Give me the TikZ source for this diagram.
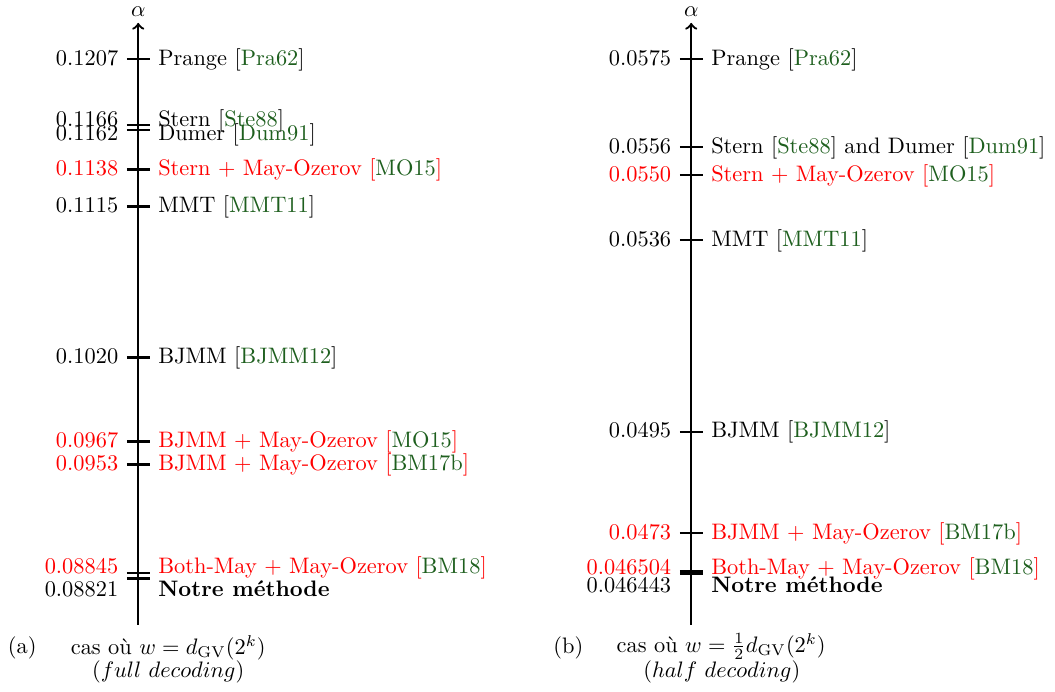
\documentclass[tikz,border=0pt]{standalone}
\usepackage{xcolor}
\usepackage{tikz}
\definecolor{citegreen}{RGB}{30,95,30}
\newcommand{\cit}[1]{[\textcolor{citegreen}{#1}]}

\begin{document}
\begin{tikzpicture}[
	axe/.style={line width=1pt,->},
	tiret/.style={line width=1pt},
	valeur/.style={anchor=east,text height=1.5ex,text depth=.25ex},
	methode/.style={anchor=west,text height=1.5ex,text depth=.25ex}]

	\useasboundingbox (0,0) rectangle (16.56,10.85);

	% (a) full decoding : axe

	\coordinate (basA) at (2.17,1.04);
	\coordinate (hautA) at (2.17,10.49);
	\draw[axe] (basA) -- (hautA) node[above,inner sep=2.5pt] (alphaA) {$\alpha$};

	% (a) algorithmes

	\draw[tiret] (1.99,9.92) node[valeur] (vPraA) {0.1207} -- (2.35,9.92) node[methode] (mPraA) {Prange \cit{Pra62}};
	\draw[tiret] (1.99,8.89) node[valeur,yshift=2pt] (vSteA) {0.1166} -- (2.35,8.89) node[methode,yshift=2pt] (mSteA) {Stern \cit{Ste88}};
	\draw[tiret] (1.99,8.81) node[valeur,yshift=-2pt] (vDumA) {0.1162} -- (2.35,8.81) node[methode,yshift=-2pt] (mDumA) {Dumer \cit{Dum91}};
	\draw[tiret] (1.99,8.19) node[valeur,red] (vSmoA) {0.1138} -- (2.35,8.19) node[methode,red] (mSmoA) {Stern + May-Ozerov \cit{MO15}};
	\draw[tiret] (1.99,7.61) node[valeur] (vMmtA) {0.1115} -- (2.35,7.61) node[methode] (mMmtA) {MMT \cit{MMT11}};
	\draw[tiret] (1.99,5.24) node[valeur] (vBjA) {0.1020} -- (2.35,5.24) node[methode] (mBjA) {BJMM \cit{BJMM12}};
	\draw[tiret] (1.99,3.92) node[valeur,red] (vBjmoA) {0.0967} -- (2.35,3.92) node[methode,red] (mBjmoA) {BJMM + May-Ozerov \cit{MO15}};
	\draw[tiret] (1.99,3.56) node[valeur,red] (vBjbmA) {0.0953} -- (2.35,3.56) node[methode,red] (mBjbmA) {BJMM + May-Ozerov \cit{BM17b}};
	\draw[tiret] (1.99,1.86) node[valeur,red,yshift=2.5pt] (vBmA) {0.08845} -- (2.35,1.86) node[methode,red,yshift=2.5pt] (mBmA) {Both-May + May-Ozerov \cit{BM18}};
	\draw[tiret] (1.99,1.77) node[valeur,yshift=-5.5pt] (vNotreA) {0.08821} -- (2.35,1.77) node[methode,yshift=-5.5pt] (mNotreA) {\textbf{Notre méthode}};

	% (a) legende

	\node (sousA) at (0.35,0.68) {(a)};
	\node (legA) at (2.64,0.68) {cas où $w = d_{\mathrm{GV}}(2^k)$};
	\node (precA) at (2.64,0.30) {$(full~decoding)$};

	% (b) half decoding : axe

	\coordinate (basB) at (10.85,1.04);
	\coordinate (hautB) at (10.85,10.49);
	\draw[axe] (basB) -- (hautB) node[above,inner sep=2.5pt] (alphaB) {$\alpha$};

	% (b) algorithmes

	\draw[tiret] (10.67,9.92) node[valeur] (vPraB) {0.0575} -- (11.03,9.92) node[methode] (mPraB) {Prange \cit{Pra62}};
	\draw[tiret] (10.67,8.54) node[valeur] (vSteB) {0.0556} -- (11.03,8.54) node[methode] (mSteB) {Stern \cit{Ste88} and Dumer \cit{Dum91}};
	\draw[tiret] (10.67,8.10) node[valeur,red] (vSmoB) {0.0550} -- (11.03,8.10) node[methode,red] (mSmoB) {Stern + May-Ozerov \cit{MO15}};
	\draw[tiret] (10.67,7.08) node[valeur] (vMmtB) {0.0536} -- (11.03,7.08) node[methode] (mMmtB) {MMT \cit{MMT11}};
	\draw[tiret] (10.67,4.07) node[valeur] (vBjB) {0.0495} -- (11.03,4.07) node[methode] (mBjB) {BJMM \cit{BJMM12}};
	\draw[tiret] (10.67,2.48) node[valeur,red] (vBjbmB) {0.0473} -- (11.03,2.48) node[methode,red] (mBjbmB) {BJMM + May-Ozerov \cit{BM17b}};
	\draw[tiret] (10.67,1.88) node[valeur,red,yshift=1.5pt] (vBmB) {0.046504} -- (11.03,1.88) node[methode,red,yshift=1.5pt] (mBmB) {Both-May + May-Ozerov \cit{BM18}};
	\draw[tiret] (10.67,1.84) node[valeur,yshift=-5.5pt] (vNotreB) {0.046443} -- (11.03,1.84) node[methode,yshift=-5.5pt] (mNotreB) {\textbf{Notre méthode}};

	% (b) legende

	\node (sousB) at (8.92,0.68) {(b)};
	\node (legB) at (11.32,0.70) {cas où $w = \frac{1}{2}d_{\mathrm{GV}}(2^k)$};
	\node (precB) at (11.33,0.30) {$(half~decoding)$};

\end{tikzpicture}
\end{document}
